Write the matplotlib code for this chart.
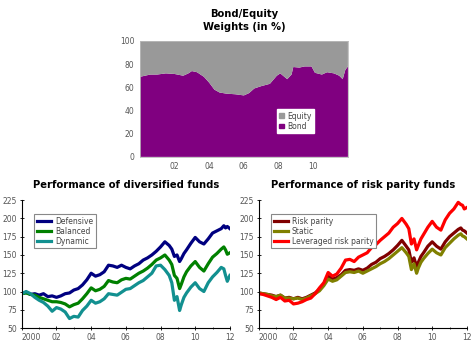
import matplotlib
matplotlib.use("Agg")
from matplotlib import pyplot as plt
from matplotlib.patches import Patch

# bond / equity weights (in %)
years_w = [2000.0, 2000.3, 2000.6, 2001.0, 2001.5, 2002.0, 2002.5, 2002.8, 2003.0, 2003.3,
           2003.7, 2004.0, 2004.3, 2004.6, 2005.0, 2005.5, 2006.0, 2006.3, 2006.6, 2007.0,
           2007.5, 2007.9, 2008.1, 2008.5, 2008.75, 2008.85, 2009.2, 2009.5, 2009.9, 2010.1,
           2010.5, 2010.8, 2011.2, 2011.5, 2011.7, 2011.85, 2012.0]
bond = [69, 70, 71, 71, 72, 71.5, 70, 72, 74, 73,
        69, 64, 58, 55.5, 54.5, 54, 53, 55, 59, 61,
        63, 70, 72, 67, 71, 77.5, 77, 78, 78, 72.5,
        71, 73, 72, 70, 67, 75, 78]
equity = [100 - b for b in bond]

# fund performance
years = [2000.0, 2000.25, 2000.5, 2000.75, 2001.0, 2001.25, 2001.5, 2001.75,
         2002.0, 2002.25, 2002.5, 2002.75, 2003.0, 2003.25, 2003.5, 2003.75,
         2004.0, 2004.25, 2004.5, 2004.75, 2005.0, 2005.25, 2005.5, 2005.75,
         2006.0, 2006.25, 2006.5, 2006.75, 2007.0, 2007.25, 2007.5, 2007.75,
         2008.0, 2008.25, 2008.5, 2008.65, 2008.8, 2008.95, 2009.1, 2009.2,
         2009.35, 2009.5, 2009.75, 2010.0, 2010.25, 2010.5, 2010.75,
         2011.0, 2011.25, 2011.5, 2011.65, 2011.75, 2011.85, 2012.0]

defensive = [97, 99, 96, 97, 95, 97, 93, 94,
             92, 94, 97, 98, 102, 104, 109, 116,
             125, 121, 123, 127, 136, 135, 133, 136,
             133, 131, 135, 138, 143, 146, 150, 155,
             161, 168, 163, 158, 148, 150, 141, 145,
             152, 157, 166, 174, 168, 165, 172,
             180, 183, 186, 190, 187, 189, 186]
balanced = [97, 98, 96, 95, 92, 90, 88, 86,
            86, 85, 83, 79, 82, 84, 90, 97,
            105, 101, 103, 107, 115, 113, 112, 116,
            118, 117, 121, 125, 128, 132, 137, 143,
            146, 150, 143, 137, 122, 118, 104, 110,
            120, 127, 135, 141, 133, 128, 138,
            147, 152, 158, 161, 157, 151, 153]
dynamic = [97, 100, 97, 92, 88, 85, 80, 73,
           78, 76, 72, 63, 66, 65, 74, 80,
           88, 84, 86, 90, 97, 96, 95, 99,
           103, 104, 108, 112, 115, 120, 125, 135,
           136, 130, 122, 112, 88, 93, 74, 82,
           92, 98, 106, 112, 104, 100, 112,
           120, 126, 133, 131, 122, 114, 122]

risk_parity = [98, 97, 96, 95, 93, 95, 91, 92,
               90, 92, 90, 92, 95, 98, 103, 110,
               121, 117, 119, 123, 129, 130, 129, 131,
               129, 132, 137, 140, 145, 148, 152, 157,
               163, 170, 162, 157, 140, 146, 134, 140,
               148, 153, 162, 168, 162, 158, 168,
               175, 180, 185, 187, 184, 183, 180]
static = [98, 97, 96, 94, 93, 95, 91, 91,
          90, 91, 89, 91, 94, 97, 101, 108,
          117, 114, 116, 121, 126, 127, 126, 128,
          125, 128, 131, 134, 138, 141, 145, 150,
          155, 160, 153, 148, 130, 138, 125, 132,
          140, 145, 152, 158, 153, 150, 160,
          166, 172, 177, 179, 176, 175, 172]
leveraged = [97, 96, 94, 92, 89, 92, 87, 88,
             83, 84, 86, 89, 91, 97, 105, 112,
             126, 121, 124, 132, 143, 144, 141, 147,
             150, 153, 160, 164, 170, 175, 180, 188,
             193, 200, 192, 186, 165, 172, 157, 163,
             172, 178, 188, 196, 188, 184, 198,
             207, 213, 222, 219, 218, 213, 215]

year_ticks = [2000, 2002, 2004, 2006, 2008, 2010, 2012]
year_labels = ["2000", "02", "04", "06", "08", "10", "12"]

fig = plt.figure(figsize=(4.74, 3.41), dpi=100)
tick_color = "#555555"

# top: weights
ax = fig.add_axes([0.295, 0.540, 0.439, 0.340])
ax.stackplot(years_w, bond, equity, colors=["#800080", "#999999"], linewidth=0)
ax.set_xlim(2000, 2012)
ax.set_ylim(0, 100)
ax.set_xticks(year_ticks[1:-1])
ax.set_xticklabels(year_labels[1:-1])
ax.set_yticks([0, 20, 40, 60, 80, 100])
ax.tick_params(length=0, labelsize=5.5, colors=tick_color, pad=4)
for s in ax.spines.values():
    s.set_color("#bbbbbb")
    s.set_linewidth(0.6)
ax.set_title("Bond/Equity\nWeights (in %)", fontsize=7.2, fontweight="bold",
             linespacing=1.35, pad=8)
handles = [Patch(color="#999999", label="Equity"), Patch(color="#800080", label="Bond")]
leg = ax.legend(handles=handles, loc="lower left", bbox_to_anchor=(0.64, 0.17),
                fontsize=5.5, handlelength=0.6, handleheight=0.6, handletextpad=0.4,
                borderpad=0.35, labelspacing=0.15, fancybox=False, framealpha=1)
leg.get_frame().set_edgecolor("white")
for t in leg.get_texts():
    t.set_color("#444444")


def perf_axes(rect, series, title):
    a = fig.add_axes(rect)
    for vals, color, label in series:
        a.plot(years, vals, color=color, linewidth=2.3, label=label)
    a.set_xlim(2000, 2012)
    a.set_ylim(50, 225)
    a.set_xticks(year_ticks)
    a.set_xticklabels(year_labels)
    a.get_xticklabels()[0].set_ha("left")
    a.set_xticks(range(2000, 2013), minor=True)
    a.set_yticks([50, 75, 100, 125, 150, 175, 200, 225])
    a.spines["top"].set_visible(False)
    a.spines["right"].set_visible(False)
    a.spines["left"].set_linewidth(0.8)
    a.spines["bottom"].set_linewidth(0.8)
    a.tick_params(direction="inout", length=3, width=0.6, labelsize=5.5,
                  labelcolor=tick_color, pad=2)
    a.tick_params(which="minor", direction="inout", length=2, width=0.5)
    a.set_title(title, fontsize=7.2, fontweight="bold", pad=9)
    lg = a.legend(loc="upper left", bbox_to_anchor=(0.04, 0.92), fontsize=5.5,
                  handlelength=1.9, handletextpad=0.5, borderpad=0.35,
                  labelspacing=0.12, fancybox=False, framealpha=1)
    lg.get_frame().set_edgecolor("#888888")
    lg.get_frame().set_linewidth(0.8)
    for t in lg.get_texts():
        t.set_color("#444444")
    for h in lg.get_lines():
        h.set_linewidth(2.3)
    return a


perf_axes([0.046, 0.038, 0.439, 0.375],
          [(defensive, "#000080", "Defensive"),
           (balanced, "#008000", "Balanced"),
           (dynamic, "#129090", "Dynamic")],
          "Performance of diversified funds")
perf_axes([0.546, 0.038, 0.439, 0.375],
          [(risk_parity, "#800000", "Risk parity"),
           (static, "#808000", "Static"),
           (leveraged, "#ff0000", "Leveraged risk parity")],
          "Performance of risk parity funds")

fig.savefig("out.png", dpi=100)
